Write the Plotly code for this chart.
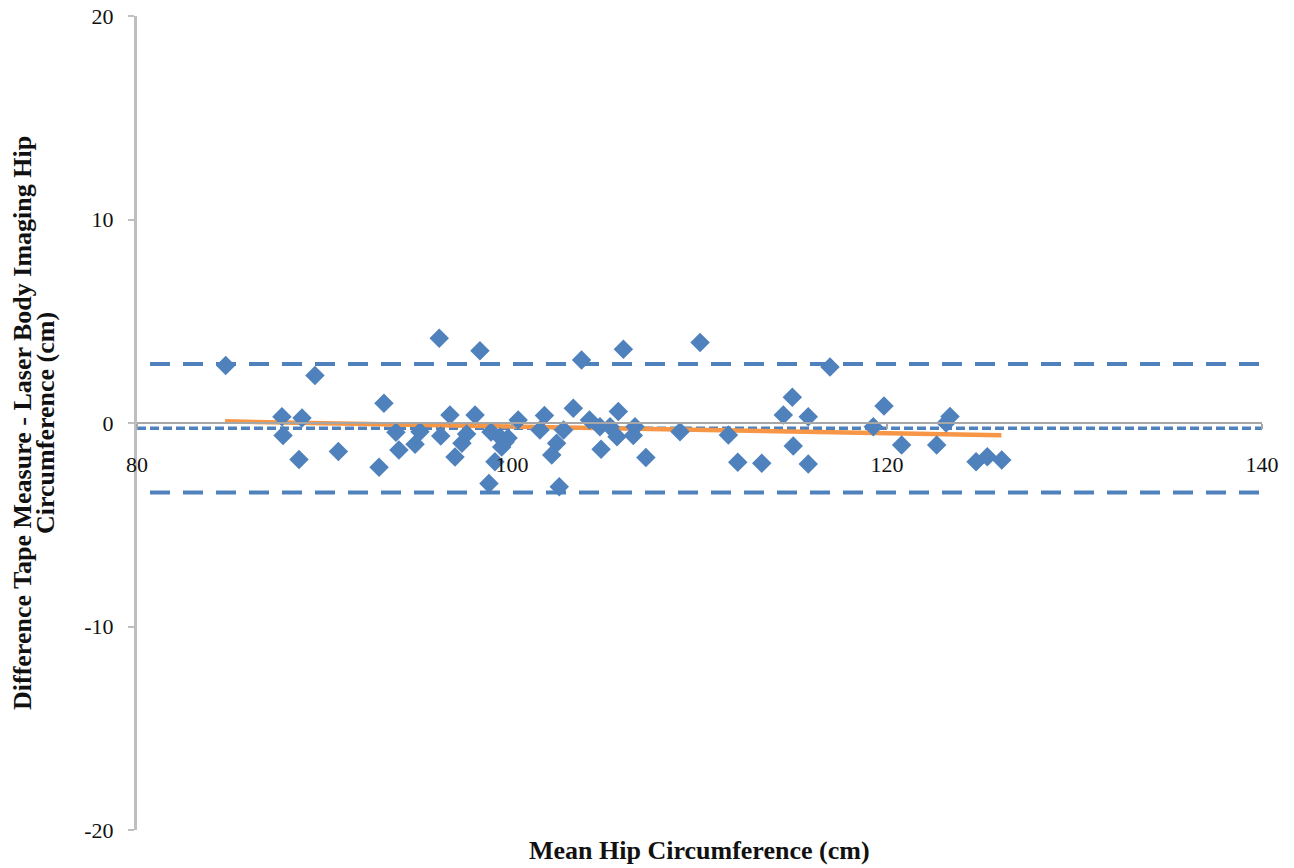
import plotly.graph_objects as go

# Data
mean_hip = [84.73, 87.73, 87.79, 88.80, 88.64, 89.49, 90.74, 92.91, 93.17, 93.81,
            93.97, 94.83, 95.09, 96.12, 96.20, 96.69, 96.96, 97.33, 97.58, 98.03,
            98.29, 98.77, 98.88, 99.09, 99.36, 99.63, 99.79, 99.45, 100.33, 101.49,
            101.73, 102.12, 102.38, 102.52, 102.75, 103.27, 103.71, 104.13, 104.69, 104.75,
            105.23, 105.60, 105.67, 105.94, 106.47, 106.56, 107.14, 108.96, 110.03, 111.54,
            112.04, 113.32, 114.47, 114.95, 115.00, 115.80, 115.80, 116.96, 119.27, 119.84,
            120.78, 122.65, 123.15, 123.36, 124.75, 125.35, 126.12]
difference = [2.82, 0.31, -0.62, 0.25, -1.79, 2.33, -1.40, -2.17, 0.97, -0.46,
              -1.33, -1.04, -0.43, 4.16, -0.64, 0.39, -1.67, -1.00, -0.54, 0.39,
              3.55, -2.97, -0.44, -1.90, -0.69, -0.93, -0.74, -1.18, 0.15, -0.34,
              0.37, -1.57, -1.00, -3.13, -0.34, 0.72, 3.10, 0.15, -0.18, -1.29,
              -0.18, -0.67, 0.56, 3.62, -0.61, -0.18, -1.70, -0.43, 3.96, -0.59,
              -1.93, -1.98, 0.39, 1.26, -1.13, 0.31, -2.02, 2.75, -0.18, 0.84,
              -1.08, -1.08, 0.00, 0.32, -1.90, -1.66, -1.82]

bias = -0.26
upper_loa = 2.90
lower_loa = -3.42

trend_x = [84.7, 126.1]
trend_y = [0.08, -0.60]

x_ticks = [80, 100, 120, 140]
y_ticks = [-20, -10, 0, 10, 20]
y_tick_text = ["-20", "-10", "0", "10", "20"]

x_title = "Mean Hip Circumference (cm)"
y_title_lines = ["Difference Tape Measure - Laser Body Imaging Hip", "Circumference (cm)"]

FONT = "Liberation Serif"
BLUE = "#4F81BD"
ORANGE = "#F79646"

x_span = [x_ticks[0], x_ticks[-1]]

fig = go.Figure()

# limits of agreement (outer dashed lines)
for val in (upper_loa, lower_loa):
    fig.add_trace(go.Scatter(
        x=x_span, y=[val, val], mode="lines",
        line=dict(color=BLUE, width=4, dash="0px,13px,20px,0px"),
        hoverinfo="skip", showlegend=False))

# bias line
fig.add_trace(go.Scatter(
    x=x_span, y=[bias, bias], mode="lines",
    line=dict(color=BLUE, width=3.5, dash="9px,4px"),
    hoverinfo="skip", showlegend=False))

# trend line
fig.add_trace(go.Scatter(
    x=trend_x, y=trend_y, mode="lines",
    line=dict(color=ORANGE, width=4.5),
    hoverinfo="skip", showlegend=False))

# points
fig.add_trace(go.Scatter(
    x=mean_hip, y=difference, mode="markers",
    marker=dict(symbol="diamond", size=15, color=BLUE, line=dict(width=0)),
    showlegend=False))

title_font = dict(family=FONT, size=26, color="#111")

fig.update_layout(
    width=1294, height=868,
    margin=dict(l=129, r=40, t=8, b=46, autoexpand=False),
    paper_bgcolor="white", plot_bgcolor="white",
    font=dict(family=FONT, size=22, color="#111"),
    xaxis=dict(
        range=x_span, tickvals=x_ticks, anchor="free", position=0.5,
        showline=True, linecolor="#A6A6A6", linewidth=2,
        ticks="outside", ticklen=5, tickcolor="#A6A6A6", tickwidth=1.5,
        ticklabelstandoff=17, automargin=False, ticklabeloverflow="allow",
        showgrid=False, zeroline=False,
        tickfont=dict(family=FONT, size=22, color="#111")),
    yaxis=dict(
        range=[y_ticks[0], y_ticks[-1]], tickvals=y_ticks, ticktext=y_tick_text,
        showline=True, linecolor="#BFBFBF", linewidth=3,
        ticks="outside", ticklen=6, tickcolor="#BFBFBF", tickwidth=1.5,
        ticklabelstandoff=10, automargin=False, ticklabeloverflow="allow",
        showgrid=False, zeroline=False,
        tickfont=dict(family=FONT, size=22, color="#111")),
    annotations=[
        dict(text="<b>" + x_title + "</b>", xref="paper", yref="paper",
             x=0.5, y=0, yshift=-20, showarrow=False,
             xanchor="center", yanchor="middle", font=title_font),
        dict(text="<b>" + y_title_lines[0] + "</b>", xref="paper", yref="paper",
             x=0, y=0.5, xshift=-115, showarrow=False, textangle=-90,
             xanchor="center", yanchor="middle", font=title_font),
        dict(text="<b>" + y_title_lines[1] + "</b>", xref="paper", yref="paper",
             x=0, y=0.5, xshift=-92, showarrow=False, textangle=-90,
             xanchor="center", yanchor="middle", font=title_font),
    ],
)

fig.write_html("out.html")
